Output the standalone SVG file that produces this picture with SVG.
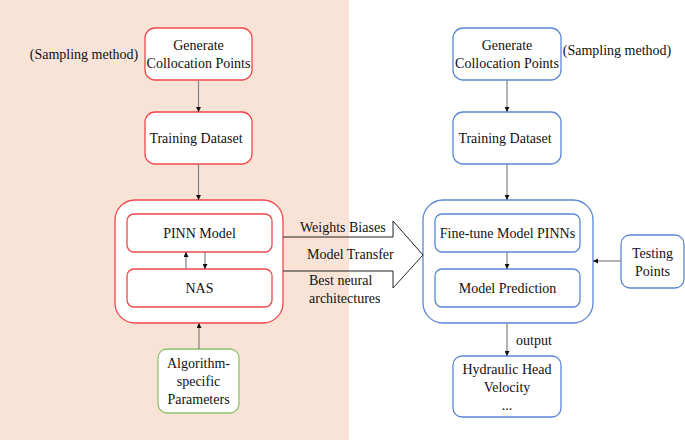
<svg xmlns="http://www.w3.org/2000/svg" width="685" height="440" viewBox="0 0 685 440">
<defs>
<style>
text{font-family:'Liberation Serif','Times New Roman','DejaVu Serif',serif;font-size:14px;fill:#111;text-anchor:middle}
.l{text-anchor:start}
.red{fill:#fff;stroke:#F0474C;stroke-width:1.3}
.blue{fill:#fff;stroke:#5B87D6;stroke-width:1.3}
.green{fill:#fff;stroke:#8DC36B;stroke-width:1.3}
.c{stroke:#808080;stroke-width:1.2;fill:none;marker-end:url(#ah)}
</style>
<marker id="ah" viewBox="0 0 6 6" refX="6" refY="3" markerWidth="5" markerHeight="5" orient="auto" markerUnits="userSpaceOnUse">
<path d="M0,0 L6,3 L0,6 z" fill="#111"/>
</marker>
</defs>
<rect x="0" y="0" width="349" height="440" fill="#F9E3D7"/>
<g id="left-generate">
<rect class="red" x="145" y="28" width="107" height="52" rx="10"/>
<text x="198.5" y="50">Generate</text>
<text x="198.5" y="68">Collocation Points</text>
</g>
<text x="84" y="59">(Sampling method)</text>
<g id="left-training">
<rect class="red" x="145" y="112" width="107" height="52" rx="10"/>
<text x="196" y="143">Training Dataset</text>
</g>
<g id="left-model">
<rect class="red" x="115" y="200" width="168" height="123" rx="20"/>
</g>
<g id="pinn">
<rect class="red" x="127" y="214" width="145" height="38" rx="7"/>
<text x="199.5" y="238">PINN Model</text>
</g>
<g id="nas">
<rect class="red" x="127" y="269" width="145" height="38" rx="7"/>
<text x="199.5" y="293">NAS</text>
</g>
<g id="algo">
<rect class="green" x="158" y="349" width="81" height="64" rx="9"/>
<text x="198.5" y="368">Algorithm-</text>
<text x="198.5" y="386">specific</text>
<text x="198.5" y="404">Parameters</text>
</g>
<g id="right-generate">
<rect class="blue" x="453" y="28" width="108" height="52" rx="10"/>
<text x="507" y="50">Generate</text>
<text x="507" y="68">Collocation Points</text>
</g>
<text x="617" y="55">(Sampling method)</text>
<g id="right-training">
<rect class="blue" x="453" y="112" width="108" height="52" rx="10"/>
<text x="505" y="143">Training Dataset</text>
</g>
<g id="right-model">
<rect class="blue" x="423" y="200" width="170" height="123" rx="20"/>
</g>
<g id="finetune">
<rect class="blue" x="435" y="214" width="145" height="38" rx="7"/>
<text x="507.5" y="238">Fine-tune Model PINNs</text>
</g>
<g id="prediction">
<rect class="blue" x="435" y="269" width="145" height="38" rx="7"/>
<text x="507.5" y="293">Model Prediction</text>
</g>
<g id="testing">
<rect class="blue" x="621" y="235" width="63" height="53" rx="9"/>
<text x="652.5" y="258">Testing</text>
<text x="652.5" y="276">Points</text>
</g>
<g id="hydraulic">
<rect class="blue" x="453" y="356" width="108" height="61" rx="9"/>
<text x="507" y="374">Hydraulic Head</text>
<text x="507" y="392">Velocity</text>
<text x="507" y="410">...</text>
</g>
<g id="connectors">
<path class="c" d="M198.5,80 V112"/>
<path class="c" d="M198.5,164 V200"/>
<path class="c" d="M186,269 V252"/>
<path class="c" d="M205,252 V269"/>
<path class="c" d="M199,349 V323"/>
<path class="c" d="M507,80 V112"/>
<path class="c" d="M507,164 V200"/>
<path class="c" d="M507,252 V269"/>
<path class="c" d="M621,261 H593"/>
<path class="c" d="M507,323 V356"/>
<path d="M283,237 H393 V221 L423,255 L393,288 V271 H283" fill="none" stroke="#222" stroke-width="1"/>
</g>
<text class="l" x="300" y="232">Weights Biases</text>
<text class="l" x="307" y="259">Model Transfer</text>
<text class="l" x="309" y="285">Best neural</text>
<text class="l" x="309" y="303">architectures</text>
<text class="l" x="516" y="345">output</text>
</svg>
